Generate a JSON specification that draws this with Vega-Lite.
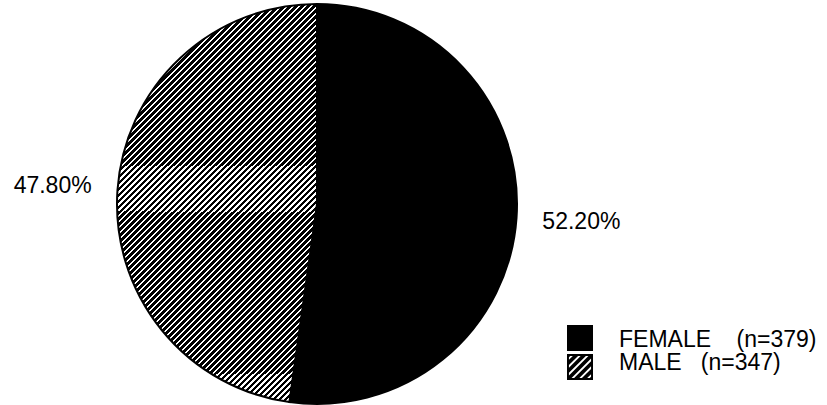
{
  "$schema": "https://vega.github.io/schema/vega-lite/v6.json",
  "width": 634,
  "height": 408,
  "padding": 0,
  "autosize": {"type": "pad"},
  "background": "white",
  "view": {"stroke": null},
  "config": {"font": "Liberation Sans"},
  "data": {
    "values": [
      {"sex": "FEMALE", "label": "FEMALE\u00a0\u00a0\u00a0\u00a0(n=379)", "count": 379, "pct": "52.20%"},
      {"sex": "MALE", "label": "MALE\u00a0\u00a0\u00a0(n=347)", "count": 347, "pct": "47.80%"}
    ]
  },
  "encoding": {
    "theta": {"field": "count", "type": "quantitative", "stack": true},
    "order": {"field": "sex", "sort": "ascending"}
  },
  "layer": [
    {
      "mark": {"type": "arc", "outerRadius": 200},
      "encoding": {
        "fill": {
          "field": "label",
          "type": "nominal",
          "scale": {"range": ["#000000", "#000000"]},
          "legend": {
            "title": null,
            "orient": "none",
            "legendX": 567,
            "legendY": 325,
            "symbolType": "square",
            "symbolSize": 676,
            "symbolStrokeWidth": 0,
            "symbolOpacity": 1,
            "labelFont": "Liberation Sans",
            "labelFontSize": 23,
            "labelColor": "#000000",
            "labelOffset": 26,
            "labelLimit": 400,
            "rowPadding": 0,
            "padding": 0,
            "encode": {
              "labels": {
                "update": {
                  "dy": [
                    {"test": "indexof(datum.value, 'MALE') === 0", "value": -4},
                    {"value": 2}
                  ]
                }
              },
              "symbols": {
                "update": {
                  "shape": [
                    {
                      "test": "indexof(datum.value, 'MALE') === 0",
                      "value": "M-1,-1V1H1V-1Z M-0.85,-0.75L-0.75,-0.85L-0.55,-0.85L-0.85,-0.55Z M-0.85,-0.15L-0.15,-0.85L0.05,-0.85L-0.85,0.05Z M-0.85,0.45L0.45,-0.85L0.65,-0.85L-0.85,0.65Z M-0.65,0.85L0.85,-0.65L0.85,-0.45L-0.45,0.85Z M-0.05,0.85L0.85,-0.05L0.85,0.15L0.15,0.85Z M0.55,0.85L0.85,0.55L0.85,0.75L0.75,0.85Z"
                    },
                    {"value": "square"}
                  ]
                }
              }
            }
          }
        }
      }
    },
    {
      "mark": {"type": "arc", "outerRadius": 200, "stroke": "#000000", "strokeWidth": 2},
      "encoding": {
        "fill": {
          "condition": {
            "test": "datum.sex === 'MALE'",
            "value": {
              "gradient": "linear", "x1": 0, "y1": 0, "x2": 0.6, "y2": 1.2,
              "stops": [
{"offset":0,"color":"#000"},{"offset":0.0063,"color":"#000"},{"offset":0.0063,"color":"#fff"},{"offset":0.01,"color":"#fff"},
{"offset":0.01,"color":"#000"},{"offset":0.0163,"color":"#000"},{"offset":0.0163,"color":"#fff"},{"offset":0.02,"color":"#fff"},
{"offset":0.02,"color":"#000"},{"offset":0.0263,"color":"#000"},{"offset":0.0263,"color":"#fff"},{"offset":0.03,"color":"#fff"},
{"offset":0.03,"color":"#000"},{"offset":0.0363,"color":"#000"},{"offset":0.0363,"color":"#fff"},{"offset":0.04,"color":"#fff"},
{"offset":0.04,"color":"#000"},{"offset":0.0463,"color":"#000"},{"offset":0.0463,"color":"#fff"},{"offset":0.05,"color":"#fff"},
{"offset":0.05,"color":"#000"},{"offset":0.0563,"color":"#000"},{"offset":0.0563,"color":"#fff"},{"offset":0.06,"color":"#fff"},
{"offset":0.06,"color":"#000"},{"offset":0.0663,"color":"#000"},{"offset":0.0663,"color":"#fff"},{"offset":0.07,"color":"#fff"},
{"offset":0.07,"color":"#000"},{"offset":0.0763,"color":"#000"},{"offset":0.0763,"color":"#fff"},{"offset":0.08,"color":"#fff"},
{"offset":0.08,"color":"#000"},{"offset":0.0863,"color":"#000"},{"offset":0.0863,"color":"#fff"},{"offset":0.09,"color":"#fff"},
{"offset":0.09,"color":"#000"},{"offset":0.0963,"color":"#000"},{"offset":0.0963,"color":"#fff"},{"offset":0.1,"color":"#fff"},
{"offset":0.1,"color":"#000"},{"offset":0.1063,"color":"#000"},{"offset":0.1063,"color":"#fff"},{"offset":0.11,"color":"#fff"},
{"offset":0.11,"color":"#000"},{"offset":0.1163,"color":"#000"},{"offset":0.1163,"color":"#fff"},{"offset":0.12,"color":"#fff"},
{"offset":0.12,"color":"#000"},{"offset":0.1263,"color":"#000"},{"offset":0.1263,"color":"#fff"},{"offset":0.13,"color":"#fff"},
{"offset":0.13,"color":"#000"},{"offset":0.1363,"color":"#000"},{"offset":0.1363,"color":"#fff"},{"offset":0.14,"color":"#fff"},
{"offset":0.14,"color":"#000"},{"offset":0.1463,"color":"#000"},{"offset":0.1463,"color":"#fff"},{"offset":0.15,"color":"#fff"},
{"offset":0.15,"color":"#000"},{"offset":0.1563,"color":"#000"},{"offset":0.1563,"color":"#fff"},{"offset":0.16,"color":"#fff"},
{"offset":0.16,"color":"#000"},{"offset":0.1663,"color":"#000"},{"offset":0.1663,"color":"#fff"},{"offset":0.17,"color":"#fff"},
{"offset":0.17,"color":"#000"},{"offset":0.1763,"color":"#000"},{"offset":0.1763,"color":"#fff"},{"offset":0.18,"color":"#fff"},
{"offset":0.18,"color":"#000"},{"offset":0.1863,"color":"#000"},{"offset":0.1863,"color":"#fff"},{"offset":0.19,"color":"#fff"},
{"offset":0.19,"color":"#000"},{"offset":0.1963,"color":"#000"},{"offset":0.1963,"color":"#fff"},{"offset":0.2,"color":"#fff"},
{"offset":0.2,"color":"#000"},{"offset":0.2063,"color":"#000"},{"offset":0.2063,"color":"#fff"},{"offset":0.21,"color":"#fff"},
{"offset":0.21,"color":"#000"},{"offset":0.2163,"color":"#000"},{"offset":0.2163,"color":"#fff"},{"offset":0.22,"color":"#fff"},
{"offset":0.22,"color":"#000"},{"offset":0.2263,"color":"#000"},{"offset":0.2263,"color":"#fff"},{"offset":0.23,"color":"#fff"},
{"offset":0.23,"color":"#000"},{"offset":0.2363,"color":"#000"},{"offset":0.2363,"color":"#fff"},{"offset":0.24,"color":"#fff"},
{"offset":0.24,"color":"#000"},{"offset":0.2463,"color":"#000"},{"offset":0.2463,"color":"#fff"},{"offset":0.25,"color":"#fff"},
{"offset":0.25,"color":"#000"},{"offset":0.2563,"color":"#000"},{"offset":0.2563,"color":"#fff"},{"offset":0.26,"color":"#fff"},
{"offset":0.26,"color":"#000"},{"offset":0.2663,"color":"#000"},{"offset":0.2663,"color":"#fff"},{"offset":0.27,"color":"#fff"},
{"offset":0.27,"color":"#000"},{"offset":0.2763,"color":"#000"},{"offset":0.2763,"color":"#fff"},{"offset":0.28,"color":"#fff"},
{"offset":0.28,"color":"#000"},{"offset":0.2863,"color":"#000"},{"offset":0.2863,"color":"#fff"},{"offset":0.29,"color":"#fff"},
{"offset":0.29,"color":"#000"},{"offset":0.2963,"color":"#000"},{"offset":0.2963,"color":"#fff"},{"offset":0.3,"color":"#fff"},
{"offset":0.3,"color":"#000"},{"offset":0.3063,"color":"#000"},{"offset":0.3063,"color":"#fff"},{"offset":0.31,"color":"#fff"},
{"offset":0.31,"color":"#000"},{"offset":0.3163,"color":"#000"},{"offset":0.3163,"color":"#fff"},{"offset":0.32,"color":"#fff"},
{"offset":0.32,"color":"#000"},{"offset":0.3263,"color":"#000"},{"offset":0.3263,"color":"#fff"},{"offset":0.33,"color":"#fff"},
{"offset":0.33,"color":"#000"},{"offset":0.3363,"color":"#000"},{"offset":0.3363,"color":"#fff"},{"offset":0.34,"color":"#fff"},
{"offset":0.34,"color":"#000"},{"offset":0.3463,"color":"#000"},{"offset":0.3463,"color":"#fff"},{"offset":0.35,"color":"#fff"},
{"offset":0.35,"color":"#000"},{"offset":0.3563,"color":"#000"},{"offset":0.3563,"color":"#fff"},{"offset":0.36,"color":"#fff"},
{"offset":0.36,"color":"#000"},{"offset":0.3663,"color":"#000"},{"offset":0.3663,"color":"#fff"},{"offset":0.37,"color":"#fff"},
{"offset":0.37,"color":"#000"},{"offset":0.3763,"color":"#000"},{"offset":0.3763,"color":"#fff"},{"offset":0.38,"color":"#fff"},
{"offset":0.38,"color":"#000"},{"offset":0.3863,"color":"#000"},{"offset":0.3863,"color":"#fff"},{"offset":0.39,"color":"#fff"},
{"offset":0.39,"color":"#000"},{"offset":0.3963,"color":"#000"},{"offset":0.3963,"color":"#fff"},{"offset":0.4,"color":"#fff"},
{"offset":0.4,"color":"#000"},{"offset":0.4063,"color":"#000"},{"offset":0.4063,"color":"#fff"},{"offset":0.41,"color":"#fff"},
{"offset":0.41,"color":"#000"},{"offset":0.4163,"color":"#000"},{"offset":0.4163,"color":"#fff"},{"offset":0.42,"color":"#fff"},
{"offset":0.42,"color":"#000"},{"offset":0.4263,"color":"#000"},{"offset":0.4263,"color":"#fff"},{"offset":0.43,"color":"#fff"},
{"offset":0.43,"color":"#000"},{"offset":0.4363,"color":"#000"},{"offset":0.4363,"color":"#fff"},{"offset":0.44,"color":"#fff"},
{"offset":0.44,"color":"#000"},{"offset":0.4463,"color":"#000"},{"offset":0.4463,"color":"#fff"},{"offset":0.45,"color":"#fff"},
{"offset":0.45,"color":"#000"},{"offset":0.4563,"color":"#000"},{"offset":0.4563,"color":"#fff"},{"offset":0.46,"color":"#fff"},
{"offset":0.46,"color":"#000"},{"offset":0.4663,"color":"#000"},{"offset":0.4663,"color":"#fff"},{"offset":0.47,"color":"#fff"},
{"offset":0.47,"color":"#000"},{"offset":0.4763,"color":"#000"},{"offset":0.4763,"color":"#fff"},{"offset":0.48,"color":"#fff"},
{"offset":0.48,"color":"#000"},{"offset":0.4863,"color":"#000"},{"offset":0.4863,"color":"#fff"},{"offset":0.49,"color":"#fff"},
{"offset":0.49,"color":"#000"},{"offset":0.4963,"color":"#000"},{"offset":0.4963,"color":"#fff"},{"offset":0.5,"color":"#fff"},
{"offset":0.5,"color":"#000"},{"offset":0.5063,"color":"#000"},{"offset":0.5063,"color":"#fff"},{"offset":0.51,"color":"#fff"},
{"offset":0.51,"color":"#000"},{"offset":0.5163,"color":"#000"},{"offset":0.5163,"color":"#fff"},{"offset":0.52,"color":"#fff"},
{"offset":0.52,"color":"#000"},{"offset":0.5263,"color":"#000"},{"offset":0.5263,"color":"#fff"},{"offset":0.53,"color":"#fff"},
{"offset":0.53,"color":"#000"},{"offset":0.5363,"color":"#000"},{"offset":0.5363,"color":"#fff"},{"offset":0.54,"color":"#fff"},
{"offset":0.54,"color":"#000"},{"offset":0.5463,"color":"#000"},{"offset":0.5463,"color":"#fff"},{"offset":0.55,"color":"#fff"},
{"offset":0.55,"color":"#000"},{"offset":0.5563,"color":"#000"},{"offset":0.5563,"color":"#fff"},{"offset":0.56,"color":"#fff"},
{"offset":0.56,"color":"#000"},{"offset":0.5663,"color":"#000"},{"offset":0.5663,"color":"#fff"},{"offset":0.57,"color":"#fff"},
{"offset":0.57,"color":"#000"},{"offset":0.5763,"color":"#000"},{"offset":0.5763,"color":"#fff"},{"offset":0.58,"color":"#fff"},
{"offset":0.58,"color":"#000"},{"offset":0.5863,"color":"#000"},{"offset":0.5863,"color":"#fff"},{"offset":0.59,"color":"#fff"},
{"offset":0.59,"color":"#000"},{"offset":0.5963,"color":"#000"},{"offset":0.5963,"color":"#fff"},{"offset":0.6,"color":"#fff"},
{"offset":0.6,"color":"#000"},{"offset":0.6063,"color":"#000"},{"offset":0.6063,"color":"#fff"},{"offset":0.61,"color":"#fff"},
{"offset":0.61,"color":"#000"},{"offset":0.6163,"color":"#000"},{"offset":0.6163,"color":"#fff"},{"offset":0.62,"color":"#fff"},
{"offset":0.62,"color":"#000"},{"offset":0.6263,"color":"#000"},{"offset":0.6263,"color":"#fff"},{"offset":0.63,"color":"#fff"},
{"offset":0.63,"color":"#000"},{"offset":0.6363,"color":"#000"},{"offset":0.6363,"color":"#fff"},{"offset":0.64,"color":"#fff"},
{"offset":0.64,"color":"#000"},{"offset":0.6463,"color":"#000"},{"offset":0.6463,"color":"#fff"},{"offset":0.65,"color":"#fff"},
{"offset":0.65,"color":"#000"},{"offset":0.6563,"color":"#000"},{"offset":0.6563,"color":"#fff"},{"offset":0.66,"color":"#fff"},
{"offset":0.66,"color":"#000"},{"offset":0.6663,"color":"#000"},{"offset":0.6663,"color":"#fff"},{"offset":0.67,"color":"#fff"},
{"offset":0.67,"color":"#000"},{"offset":0.6763,"color":"#000"},{"offset":0.6763,"color":"#fff"},{"offset":0.68,"color":"#fff"},
{"offset":0.68,"color":"#000"},{"offset":0.6863,"color":"#000"},{"offset":0.6863,"color":"#fff"},{"offset":0.69,"color":"#fff"},
{"offset":0.69,"color":"#000"},{"offset":0.6963,"color":"#000"},{"offset":0.6963,"color":"#fff"},{"offset":0.7,"color":"#fff"},
{"offset":0.7,"color":"#000"},{"offset":0.7063,"color":"#000"},{"offset":0.7063,"color":"#fff"},{"offset":0.71,"color":"#fff"},
{"offset":0.71,"color":"#000"},{"offset":0.7163,"color":"#000"},{"offset":0.7163,"color":"#fff"},{"offset":0.72,"color":"#fff"},
{"offset":0.72,"color":"#000"},{"offset":0.7263,"color":"#000"},{"offset":0.7263,"color":"#fff"},{"offset":0.73,"color":"#fff"},
{"offset":0.73,"color":"#000"},{"offset":0.7363,"color":"#000"},{"offset":0.7363,"color":"#fff"},{"offset":0.74,"color":"#fff"},
{"offset":0.74,"color":"#000"},{"offset":0.7463,"color":"#000"},{"offset":0.7463,"color":"#fff"},{"offset":0.75,"color":"#fff"},
{"offset":0.75,"color":"#000"},{"offset":0.7563,"color":"#000"},{"offset":0.7563,"color":"#fff"},{"offset":0.76,"color":"#fff"},
{"offset":0.76,"color":"#000"},{"offset":0.7663,"color":"#000"},{"offset":0.7663,"color":"#fff"},{"offset":0.77,"color":"#fff"},
{"offset":0.77,"color":"#000"},{"offset":0.7763,"color":"#000"},{"offset":0.7763,"color":"#fff"},{"offset":0.78,"color":"#fff"},
{"offset":0.78,"color":"#000"},{"offset":0.7863,"color":"#000"},{"offset":0.7863,"color":"#fff"},{"offset":0.79,"color":"#fff"},
{"offset":0.79,"color":"#000"},{"offset":0.7963,"color":"#000"},{"offset":0.7963,"color":"#fff"},{"offset":0.8,"color":"#fff"},
{"offset":0.8,"color":"#000"},{"offset":0.8063,"color":"#000"},{"offset":0.8063,"color":"#fff"},{"offset":0.81,"color":"#fff"},
{"offset":0.81,"color":"#000"},{"offset":0.8163,"color":"#000"},{"offset":0.8163,"color":"#fff"},{"offset":0.82,"color":"#fff"},
{"offset":0.82,"color":"#000"},{"offset":0.8263,"color":"#000"},{"offset":0.8263,"color":"#fff"},{"offset":0.83,"color":"#fff"},
{"offset":0.83,"color":"#000"},{"offset":0.8363,"color":"#000"},{"offset":0.8363,"color":"#fff"},{"offset":0.84,"color":"#fff"},
{"offset":0.84,"color":"#000"},{"offset":0.8463,"color":"#000"},{"offset":0.8463,"color":"#fff"},{"offset":0.85,"color":"#fff"},
{"offset":0.85,"color":"#000"},{"offset":0.8563,"color":"#000"},{"offset":0.8563,"color":"#fff"},{"offset":0.86,"color":"#fff"},
{"offset":0.86,"color":"#000"},{"offset":0.8663,"color":"#000"},{"offset":0.8663,"color":"#fff"},{"offset":0.87,"color":"#fff"},
{"offset":0.87,"color":"#000"},{"offset":0.8763,"color":"#000"},{"offset":0.8763,"color":"#fff"},{"offset":0.88,"color":"#fff"},
{"offset":0.88,"color":"#000"},{"offset":0.8863,"color":"#000"},{"offset":0.8863,"color":"#fff"},{"offset":0.89,"color":"#fff"},
{"offset":0.89,"color":"#000"},{"offset":0.8963,"color":"#000"},{"offset":0.8963,"color":"#fff"},{"offset":0.9,"color":"#fff"},
{"offset":0.9,"color":"#000"},{"offset":0.9063,"color":"#000"},{"offset":0.9063,"color":"#fff"},{"offset":0.91,"color":"#fff"},
{"offset":0.91,"color":"#000"},{"offset":0.9163,"color":"#000"},{"offset":0.9163,"color":"#fff"},{"offset":0.92,"color":"#fff"},
{"offset":0.92,"color":"#000"},{"offset":0.9263,"color":"#000"},{"offset":0.9263,"color":"#fff"},{"offset":0.93,"color":"#fff"},
{"offset":0.93,"color":"#000"},{"offset":0.9363,"color":"#000"},{"offset":0.9363,"color":"#fff"},{"offset":0.94,"color":"#fff"},
{"offset":0.94,"color":"#000"},{"offset":0.9463,"color":"#000"},{"offset":0.9463,"color":"#fff"},{"offset":0.95,"color":"#fff"},
{"offset":0.95,"color":"#000"},{"offset":0.9563,"color":"#000"},{"offset":0.9563,"color":"#fff"},{"offset":0.96,"color":"#fff"},
{"offset":0.96,"color":"#000"},{"offset":0.9663,"color":"#000"},{"offset":0.9663,"color":"#fff"},{"offset":0.97,"color":"#fff"},
{"offset":0.97,"color":"#000"},{"offset":0.9763,"color":"#000"},{"offset":0.9763,"color":"#fff"},{"offset":0.98,"color":"#fff"},
{"offset":0.98,"color":"#000"},{"offset":0.9863,"color":"#000"},{"offset":0.9863,"color":"#fff"},{"offset":0.99,"color":"#fff"},
{"offset":0.99,"color":"#000"},{"offset":0.9963,"color":"#000"},{"offset":0.9963,"color":"#fff"},{"offset":1,"color":"#fff"}
              ]
            }
          },
          "value": "#000000"
        }
      }
    },
    {
      "mark": {"type": "text", "radius": 265, "fontSize": 23, "font": "Liberation Sans", "color": "#000000", "align": "center", "baseline": "middle"},
      "encoding": {
        "text": {"field": "pct", "type": "nominal"}
      }
    }
  ]
}
